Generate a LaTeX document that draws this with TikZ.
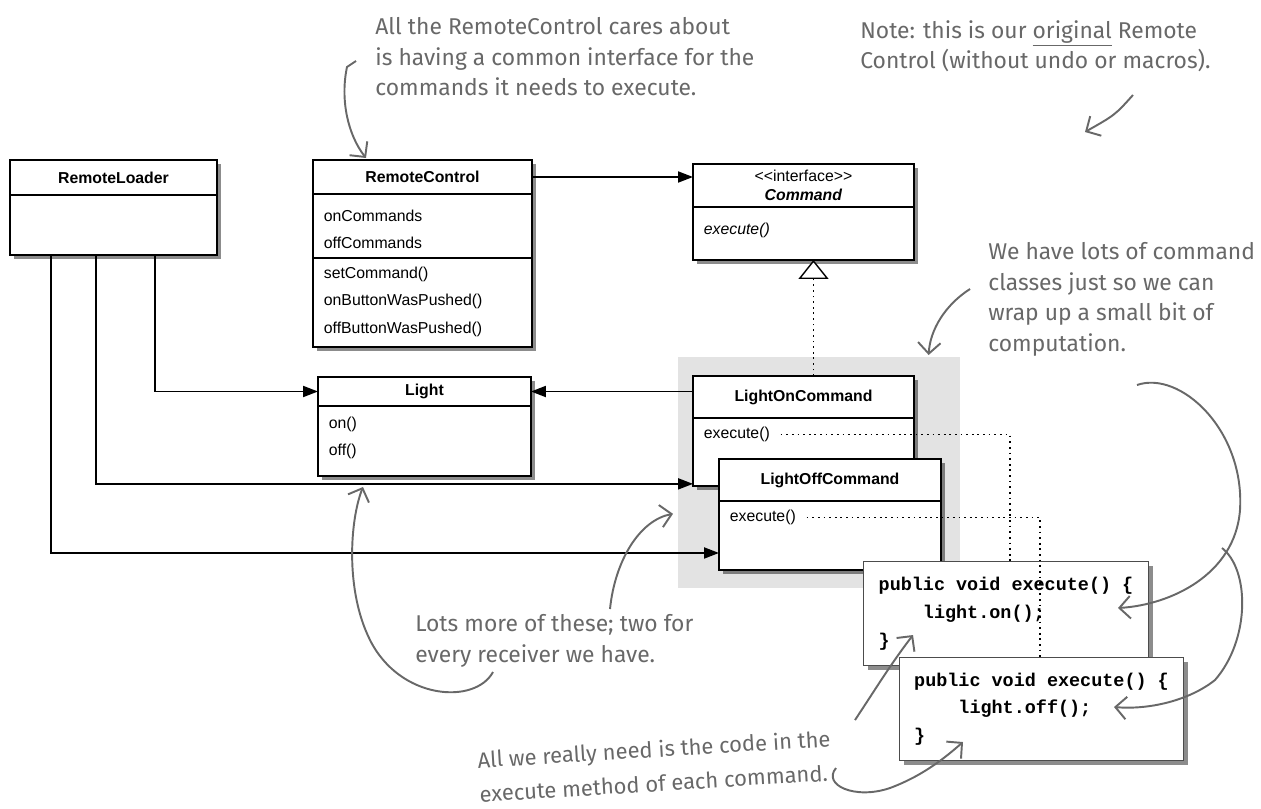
\documentclass[tikz,border=0pt]{standalone}
\usepackage{fontspec}
\usepackage{tikz}
\usetikzlibrary{arrows.meta, positioning, shadows}
\usepackage{xcolor}
\newfontfamily\umlfont{Liberation Sans}
\newfontfamily\codefont{Liberation Mono}
\newfontfamily\handfont{Fira Sans}
\definecolor{handgray}{HTML}{686868}

\begin{document}
\begin{tikzpicture}[
    x=0.02cm, y=-0.02cm,
    shad/.style={drop shadow={shadow xshift=2.5pt, shadow yshift=-2.5pt, fill=black, opacity=0.45}},
    hd/.style={draw, fill=white, line width=0.8pt, outer sep=0pt, inner sep=0pt, font=\umlfont\fontsize{9}{15}\selectfont\bfseries},
    bd/.style={draw, fill=white, line width=0.8pt, outer sep=0pt, inner sep=0pt},
    mt/.style={anchor=north west, align=left, inner xsep=6pt, inner ysep=5pt, font=\umlfont\fontsize{9}{15.5}\selectfont},
    codebox/.style={draw=black!70, fill=white, line width=0.6pt, anchor=north west, align=left, font=\codefont\bfseries\fontsize{10.5}{15.8}\selectfont},
    note/.style={font=\handfont\fontsize{13}{17.5}\selectfont, text=handgray, align=left, anchor=north west, inner sep=0pt},
    arr/.style={-{Triangle[length=3mm, width=2.2mm]}, line width=1.1pt},
    dots/.style={line width=1pt, dash pattern=on 1pt off 2.2pt},
    hand/.style={draw=handgray, line width=1.1pt, -{Straight Barb[length=2.2mm, width=4.5mm]}},
]
\useasboundingbox (0,0) rectangle (1261,808);

% RemoteLoader
\node[hd, shad, anchor=north west, minimum width=4.14cm, minimum height=0.7cm] (rlHead) at (10,160) {RemoteLoader};
\node[bd, shad, below=0pt of rlHead, minimum width=4.14cm, minimum height=1.2cm] (rlBody) {};

% RemoteControl
\node[hd, shad, anchor=north west, minimum width=4.38cm, minimum height=0.68cm] (rcHead) at (313,160) {RemoteControl};
\node[bd, shad, below=0pt of rcHead, minimum width=4.38cm, minimum height=1.28cm,
    label={[mt, yshift=-4pt]north west:onCommands\\offCommands}] (rcAttr) {};
\node[bd, shad, below=0pt of rcAttr, minimum width=4.38cm, minimum height=1.78cm,
    label={[mt]north west:setCommand()\\onButtonWasPushed()\\offButtonWasPushed()}] (rcOps) {};

% Command interface
\node[hd, shad, anchor=north west, minimum width=4.42cm, minimum height=0.86cm, align=center,
    font=\umlfont\fontsize{9}{10.5}\selectfont] (cmdHead) at (693,164) {<{}<interface>{}>\\\textbf{\textit{Command}}};
\node[bd, shad, below=0pt of cmdHead, minimum width=4.42cm, minimum height=1.06cm,
    label={[mt, yshift=-4pt, font=\umlfont\fontsize{9}{15}\selectfont\itshape]north west:execute()}] (cmdBody) {};

% Receiver
\node[hd, shad, anchor=north west, minimum width=4.26cm, minimum height=0.58cm] (lightHead) at (318,377) {Light};
\node[bd, shad, below=0pt of lightHead, minimum width=4.26cm, minimum height=1.4cm,
    label={[mt, yshift=-1pt]north west:on()\\off()}] (lightBody) {};

% Concrete commands
\node[fill=gray!22, anchor=north west, inner sep=0pt, minimum width=5.64cm, minimum height=4.62cm] (panel) at (678,357) {};
\node[hd, shad, anchor=north west, minimum width=4.42cm, minimum height=0.84cm] (lonHead) at (693,376) {LightOnCommand};
\node[bd, shad, below=0pt of lonHead, minimum width=4.42cm, minimum height=1.36cm,
    label={[mt, name=lonExec]north west:execute()}] (lonBody) {};
\node[hd, shad, anchor=north west, minimum width=4.44cm, minimum height=0.84cm] (loffHead) at (719,459) {LightOffCommand};
\node[bd, shad, below=0pt of loffHead, minimum width=4.44cm, minimum height=1.38cm,
    label={[mt, name=loffExec]north west:execute()}] (loffBody) {};

% Code of execute()
\node[codebox, shad, minimum width=5.7cm, minimum height=2.08cm] (code1) at (863,561) {public void execute() \{\\\hspace*{2.4em}light.on();\\\}};
\node[codebox, shad, minimum width=5.68cm, minimum height=2.06cm] (code2) at (899,657) {public void execute() \{\\\hspace*{2.4em}light.off();\\\}};

\draw[dots] (lonExec.east) -| ([xshift=2.94cm]code1.north west);
\draw[dots] (loffExec.east) -| ([xshift=2.82cm]code2.north west);

% Associations
\draw[arr] (rcHead.east) -- (rcHead.east -| cmdHead.west);
\draw[arr] (lonHead.west |- lightHead.east) -- (lightHead.east);
\draw[arr] (rlBody.south west) ++(145,0) |- (lightHead.west);
\draw[arr] (rlBody.south west) ++(86,0) |- ([yshift=1.2pt]lonBody.south west);
\draw[arr] (rlBody.south west) ++(41,0) |- ([yshift=0.34cm]loffBody.south west);
\draw[dots, -{Triangle[fill=white, line width=0.8pt, length=0.38cm, width=0.6cm]}] ([xshift=0.2cm]lonHead.north) -- ([xshift=0.2cm]cmdBody.south);

% Notes
\node[note] (noteRC) at (375,17) {All the RemoteControl cares about\\is having a common interface for the\\commands it needs to execute.};
\node[note] (noteOrig) at (860,20) {Note: this is our \underline{original} Remote\\Control (without undo or macros).};
\node[note] (noteCmds) at (988,242) {We have lots of command\\classes just so we can\\wrap up a small bit of\\computation.};
\node[note] (noteMore) at (415,614) {Lots more of these; two for\\every receiver we have.};
\node[note, anchor=center, rotate=3.5, font=\handfont\fontsize{12.5}{19.5}\selectfont] (noteCode) at (655,766) {All we really need is the code in the\\execute method of each command.};

\coordinate (origTip) at (1085,132);
\coordinate (codeEnd) at (836,768);
\coordinate (codeStart) at (855,720);

\draw[hand] ([shift={(-19,44)}]noteRC.north west) -- ++(-9,6) .. controls (340,100) and (348,135) .. ([shift={(53,-2)}]rcHead.north west);
\draw[hand] ([shift={(273,75)}]noteOrig.north west) .. controls (1115,115) .. (origTip);
\draw[hand] ([shift={(-18,47)}]noteCmds.north west) .. controls (945,305) and (930,330) .. ([shift={(-32,-2)}]panel.north east);
\draw[hand] ([shift={(149,143)}]noteCmds.north west) .. controls (1180,370) and (1245,430) .. (1240,510)
    .. controls (1235,575) and (1170,605) .. ([shift={(-31,47)}]code1.north east);
\draw[hand] (1222,548) .. controls (1250,570) and (1250,640) .. (1215,680)
    .. controls (1190,700) and (1150,710) .. ([shift={(-70,50)}]code2.north east);
\draw[hand] ([shift={(195,-5)}]noteMore.north west) .. controls (615,560) and (640,520) .. ([shift={(-5,41)}]panel.west);
\draw[hand] ([shift={(78,58)}]noteMore.north west) .. controls (475,705) and (400,700) .. (370,640)
    .. controls (345,590) and (350,520) .. ([shift={(45,11)}]lightBody.south west);
\draw[hand] (codeEnd) .. controls (822,785) and (855,800) .. (890,788)
    .. controls (925,775) and (948,755) .. ([shift={(64,-19)}]code2.south west);
\draw[hand] (codeStart) .. controls (875,690) and (890,665) .. ([shift={(50,-31)}]code1.south west);

\end{tikzpicture}
\end{document}
